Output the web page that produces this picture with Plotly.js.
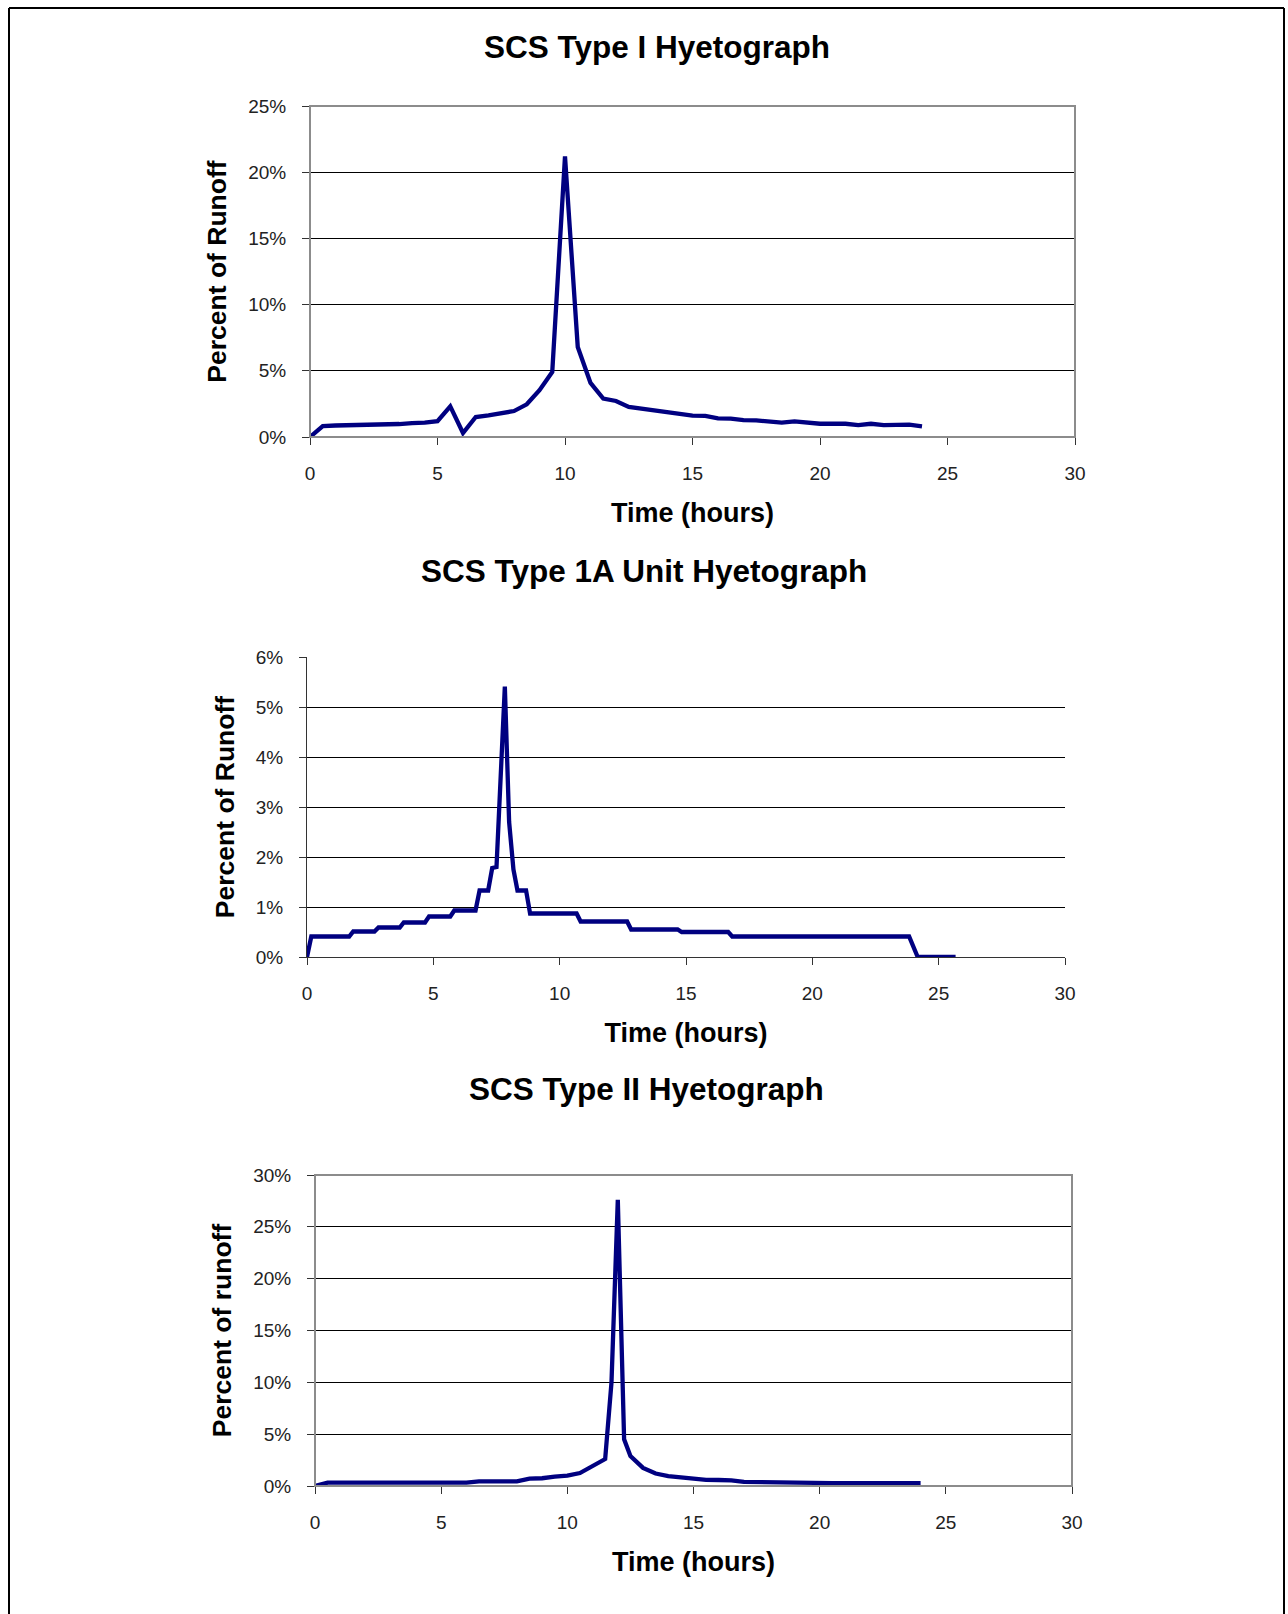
<!DOCTYPE html>
<html><head><meta charset="utf-8">
<script src="https://cdn.plot.ly/plotly-3.0.1.min.js"></script>
<style>html,body{margin:0;padding:0;background:#fff;} #chart{width:1288px;height:1614px;}</style>
</head><body><div id="chart"></div>
<script>
// ---- data ----
const type1Hours = [0,0.5,1,1.5,2,2.5,3,3.5,4,4.5,5,5.5,6,6.5,7,7.5,8,8.5,9,9.5,10,10.5,11,11.5,12,12.5,13,13.5,14,14.5,15,15.5,16,16.5,17,17.5,18,18.5,19,19.5,20,20.5,21,21.5,22,22.5,23,23.5,24];
const type1Percent = [0,0.83,0.87,0.88,0.9,0.95,0.97,0.98,1.05,1.08,1.2,2.32,0.3,1.51,1.64,1.81,1.96,2.47,3.53,4.91,21.2,6.8,4.08,2.9,2.72,2.27,2.14,2.0,1.84,1.69,1.61,1.59,1.41,1.39,1.28,1.26,1.18,1.08,1.18,1.08,1.0,1.0,1.0,0.9,1.0,0.9,0.9,0.93,0.8];

const type1aHours = [0,0.17,1.67,1.83,2.67,2.83,3.67,3.83,4.67,4.83,5.67,5.83,6.67,6.83,7.17,7.33,7.5,7.67,7.83,8.0,8.17,8.33,8.67,8.83,10.67,10.83,12.67,12.83,14.67,14.83,16.67,16.83,23.83,24.17,25.67];
const type1aPercent = [0,0.41,0.41,0.51,0.51,0.59,0.59,0.69,0.69,0.81,0.81,0.93,0.93,1.33,1.33,1.78,1.8,3.5,5.41,2.7,1.75,1.33,1.33,0.87,0.87,0.71,0.71,0.55,0.55,0.5,0.5,0.41,0.41,0,0];

const type2Hours = [0,0.5,1,1.5,2,2.5,3,3.5,4,4.5,5,5.5,6,6.5,7,7.5,8,8.5,9,9.5,10,10.5,11,11.5,11.75,12,12.25,12.5,13,13.5,14,14.5,15,15.5,16,16.5,17,17.5,18,18.5,19,19.5,20,20.5,21,21.5,22,22.5,23,23.5,24];
const type2Percent = [0,0.32,0.32,0.32,0.32,0.32,0.32,0.32,0.32,0.32,0.32,0.32,0.32,0.45,0.45,0.45,0.45,0.72,0.75,0.9,1.0,1.25,1.9,2.6,10.0,27.6,4.5,2.9,1.75,1.2,0.95,0.85,0.65,0.6,0.58,0.55,0.4,0.38,0.28,0.27,0.27,0.27,0.27,0.27,0.27,0.27,0.27,0.27,0.27,0.27,0.27];

const chartTitles = ['SCS Type I Hyetograph', 'SCS Type 1A Unit Hyetograph', 'SCS Type II Hyetograph'];
const yAxisTitles = ['Percent of Runoff', 'Percent of Runoff', 'Percent of runoff'];
const xAxisTitle = 'Time (hours)';
const xTickValues = [0, 5, 10, 15, 20, 25, 30];
const yMaxima = [25, 6, 30];
const yTickSteps = [5, 1, 5];

// ---- layout ----
const W = 1288, H = 1614;
const FONT = 'Arial, "Liberation Sans", sans-serif';
const LINE = '#000080';
const boxes = [
  {l: 310, r: 1075, t: 106, b: 437, border: true,  title: [657, 47]},
  {l: 307, r: 1065, t: 657, b: 957, border: false, title: [644, 571]},
  {l: 315, r: 1072, t: 1175, b: 1486, border: true, title: [646, 1089]}
];
const px = x => x / W;
const py = y => 1 - y / H;

const series = [[type1Hours, type1Percent], [type1aHours, type1aPercent], [type2Hours, type2Percent]];
const data = series.map((s, i) => ({
  x: s[0], y: s[1], type: 'scatter', mode: 'lines',
  xaxis: i === 0 ? 'x' : 'x' + (i + 1), yaxis: i === 0 ? 'y' : 'y' + (i + 1),
  line: {color: LINE, width: 4.3}, hoverinfo: 'x+y', showlegend: false
}));

const layout = {
  width: W, height: H, margin: {l: 0, r: 0, t: 0, b: 0},
  paper_bgcolor: '#fff', plot_bgcolor: '#fff', showlegend: false,
  font: {family: FONT, color: '#000'},
  annotations: [], shapes: []
};

boxes.forEach((b, i) => {
  const sfx = i === 0 ? '' : String(i + 1);
  const yId = 'y' + sfx, xId = 'x' + sfx;
  layout['xaxis' + sfx] = {
    domain: [px(b.l), px(b.r)], anchor: yId, range: [0, 30],
    tickmode: 'array', tickvals: xTickValues, ticks: 'outside', ticklen: 7, tickwidth: 1, tickcolor: '#333',
    showline: true, linecolor: '#333', linewidth: 1, showgrid: false, zeroline: false,
    tickfont: {family: FONT, size: 19, color: '#222'}, ticklabelstandoff: 12,
    title: {text: '<b>' + xAxisTitle + '</b>', font: {family: FONT, size: 27, color: '#000'}, standoff: 20},
    fixedrange: true
  };
  layout['yaxis' + sfx] = {
    domain: [py(b.b), py(b.t)], anchor: xId, range: [0, yMaxima[i]],
    dtick: yTickSteps[i], tick0: 0, ticksuffix: '%', ticks: 'outside', ticklen: 7, tickwidth: 1, tickcolor: '#333',
    showline: true, linecolor: '#333', linewidth: 1, showgrid: true, gridcolor: '#000', gridwidth: 1, zeroline: false,
    tickfont: {family: FONT, size: 19, color: '#222'}, ticklabelstandoff: 12,
    title: {text: '<b>' + yAxisTitles[i] + '</b>', font: {family: FONT, size: 26.5, color: '#000'}, standoff: 13},
    fixedrange: true
  };
  layout.annotations.push({
    text: '<b>' + chartTitles[i] + '</b>', xref: 'paper', yref: 'paper',
    x: px(b.title[0]), y: py(b.title[1]), xanchor: 'center', yanchor: 'middle',
    showarrow: false, font: {family: FONT, size: 31.5, color: '#000'}
  });
  if (b.border) {
    layout.shapes.push({type: 'rect', xref: xId + ' domain', yref: yId + ' domain', x0: 0, x1: 1, y0: 0, y1: 1,
      line: {color: '#8c8c8c', width: 2}, layer: 'above'});
  }
});

// outer frame of the page
layout.shapes.push(
  {type: 'line', xref: 'paper', yref: 'paper', x0: px(9), x1: px(9), y0: py(8), y1: py(1630), line: {color: '#000', width: 2}},
  {type: 'line', xref: 'paper', yref: 'paper', x0: px(1284), x1: px(1284), y0: py(8), y1: py(1630), line: {color: '#000', width: 2}},
  {type: 'line', xref: 'paper', yref: 'paper', x0: px(9), x1: px(1284), y0: py(8), y1: py(8), line: {color: '#000', width: 2}}
);

Plotly.newPlot('chart', data, layout, {displayModeBar: false, staticPlot: true});
</script>
</body></html>
